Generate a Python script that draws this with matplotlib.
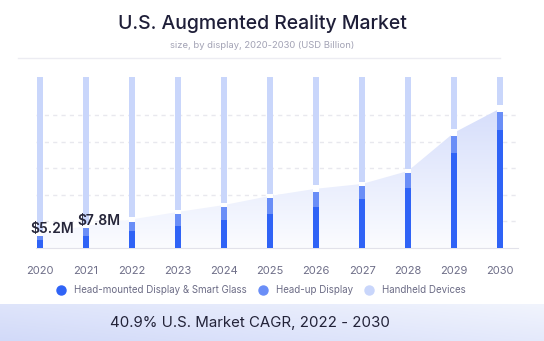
import numpy as np
import matplotlib
matplotlib.use("Agg")
from matplotlib import pyplot as plt
from matplotlib.colors import LinearSegmentedColormap

plt.rcParams['font.family'] = ['Inter', 'DejaVu Sans']

# data (USD Billion)
years = ["2020", "2021", "2022", "2023", "2024", "2025",
         "2026", "2027", "2028", "2029", "2030"]
head_mounted = [0.60, 0.91, 1.28, 1.66, 2.11, 2.57, 3.09, 3.70, 4.53, 7.17, 8.91]
head_up = [0.30, 0.60, 0.68, 0.91, 0.98, 1.21, 1.13, 0.98, 1.13, 1.28, 1.36]
handheld = [0.15, 0.15, 0.20, 0.15, 0.15, 0.15, 0.25, 0.15, 0.15, 0.25, 0.25]
bar_labels = {0: "$5.2M", 1: "$7.8M"}
track_top = 12.9

c_hmd = "#2f63f6"
c_hud = "#6a8ef7"
c_hand = "#c9d6fb"

fig = plt.figure(figsize=(5.44, 3.41), dpi=100)
fig.patch.set_facecolor("white")

# title block
fig.text(262 / 544, 1 - 24 / 341, "U.S. Augmented Reality Market", ha="center",
         va="center", fontsize=14, fontweight="medium", color="#1e1e38")
fig.text(262 / 544, 1 - 46 / 341, "size, by display, 2020-2030 (USD Billion)",
         ha="center", va="center", fontsize=6.8, color="#a3a3b5")
fig.add_artist(plt.Line2D([18 / 544, 500 / 544], [1 - 58 / 341] * 2,
                          color="#ececf2", lw=1))

# main chart
ax = fig.add_axes([36 / 544, 1 - 248 / 341, 482 / 544, 171 / 341])
x = np.arange(len(years))
hmd = np.array(head_mounted)
hud = np.array(head_up)
hand = np.array(handheld)
total = hmd + hud + hand

ax.set_xlim(-0.087, 10.39)
ax.set_ylim(0, track_top)

# gradient area under total
grad = LinearSegmentedColormap.from_list("g", ["#fbfcff", "#d6defb"])
img = ax.imshow(np.linspace(0, 1, 256).reshape(-1, 1), cmap=grad, aspect="auto",
                extent=[x[0], x[-1], 0, total.max()], origin="lower", zorder=1)
poly = ax.fill_between(x, 0, total, color="none", zorder=1)
img.set_clip_path(poly.get_paths()[0], transform=ax.transData)

for gy in [2, 4, 6, 8, 10]:
    ax.axhline(gy, color="#e8e8ee", lw=1, ls=(0, (3, 3)), zorder=0.5)

w = 0.13
ax.bar(x, hmd, w, color=c_hmd, zorder=3)
ax.bar(x, hud, w, bottom=hmd, color=c_hud, zorder=3)
ax.bar(x, 2 * hand, w, bottom=hmd + hud, color="white", zorder=3)
ax.bar(x, track_top - (hmd + hud + 2 * hand), w, bottom=hmd + hud + 2 * hand,
       color=c_hand, zorder=3)

for i, txt in bar_labels.items():
    ax.text(i + 0.27, total[i] + 0.35, txt, ha="center", va="center",
            fontsize=10, fontweight="semibold", color="#26263a", zorder=5)

for s in ["top", "right", "left"]:
    ax.spines[s].set_visible(False)
ax.spines["bottom"].set_color("#e2e2ea")
ax.set_yticks([])
ax.set_xticks(x)
ax.set_xticklabels(years, fontsize=8, color="#6e6e88")
ax.tick_params(axis="x", length=0, pad=13)

# legend
leg_items = [("Head-mounted Display & Smart Glass", c_hmd, 61),
             ("Head-up Display", c_hud, 263),
             ("Handheld Devices", c_hand, 369)]
for name, col, px in leg_items:
    fig.add_artist(plt.Line2D([px / 544], [1 - 290 / 341], marker="o", ms=6.5,
                              color=col, ls="none"))
    fig.text((px + 13) / 544, 1 - 290 / 341, name, ha="left", va="center",
             fontsize=7, color="#6b6b85")

# bottom banner
bax = fig.add_axes([0, 0, 1, 37 / 341])
bax.axis("off")
gx, gy = np.meshgrid(np.linspace(0, 1, 200), np.linspace(0, 1, 40))
shade = 0.6 * gx + 0.4 * (1 - gy)
bcmap = LinearSegmentedColormap.from_list("b", ["#d2daf9", "#f1f4fd"])
bax.imshow(shade, cmap=bcmap, aspect="auto", extent=[0, 1, 0, 1], origin="upper")
bax.set_xlim(0, 1)
bax.set_ylim(0, 1)
bax.text(250 / 544, 0.5, "40.9% U.S. Market CAGR, 2022 - 2030", ha="center",
         va="center", fontsize=10.8, color="#222238")

fig.savefig("out.png", dpi=100)
